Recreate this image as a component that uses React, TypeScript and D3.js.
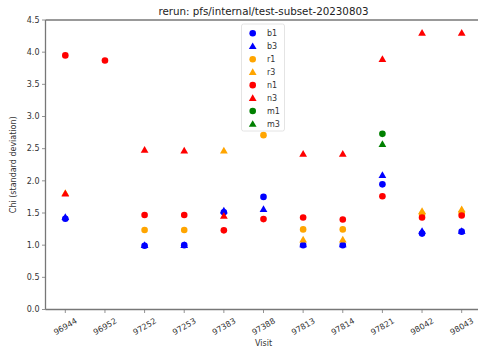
import React from "react";
import * as d3 from "d3";

const visits = ["96944", "96952", "97252", "97253", "97383", "97388", "97813", "97814", "97821", "98042", "98043"];
const yTicks = [0, 0.5, 1, 1.5, 2, 2.5, 3, 3.5, 4, 4.5];

const b1 = [1.41, null, 0.99, 1.0, 1.51, 1.75, 1.0, 1.0, 1.945, 1.18, 1.21];
const b3 = [1.435, null, 1.0, 1.0, 1.535, 1.56, 1.01, 1.01, 2.09, 1.22, 1.22];
const r1 = [null, null, 1.235, 1.235, null, 2.71, 1.245, 1.245, null, 1.48, 1.5];
const r3 = [1.81, null, null, null, 2.47, null, 1.085, 1.085, null, 1.53, 1.555];
const n1 = [3.95, 3.87, 1.47, 1.47, 1.23, 1.405, 1.43, 1.4, 1.76, 1.43, 1.46];
const n3 = [1.8, null, 2.48, 2.47, 1.455, null, 2.42, 2.42, 3.89, 4.3, 4.3];
const m1 = [null, null, null, null, null, null, null, null, 2.73, null, null];
const m3 = [null, null, null, null, null, null, null, null, 2.57, null, null];

const series = [
  { name: "b1", values: b1, color: "#0000ff", shape: "circle" },
  { name: "b3", values: b3, color: "#0000ff", shape: "triangle" },
  { name: "r1", values: r1, color: "#ffa500", shape: "circle" },
  { name: "r3", values: r3, color: "#ffa500", shape: "triangle" },
  { name: "n1", values: n1, color: "#ff0000", shape: "circle" },
  { name: "n3", values: n3, color: "#ff0000", shape: "triangle" },
  { name: "m1", values: m1, color: "#008000", shape: "circle" },
  { name: "m3", values: m3, color: "#008000", shape: "triangle" },
];

const W = 478, H = 349;
const L = 45.5, R = 481.5, T = 20, B = 309.5;
const FONT = "DejaVu Sans, sans-serif";

function Marker({ shape, x, y, color }: { shape: string; x: number; y: number; color: string }) {
  if (shape === "circle") return <circle cx={x} cy={y} r={3.3} fill={color} />;
  const s = d3.symbol(d3.symbolTriangle, 26)();
  return <path d={s as string} transform={`translate(${x},${y + 0.6})`} fill={color} />;
}

export default function App() {
  const x = d3.scaleLinear().domain([-0.5, visits.length - 0.5]).range([L, R]);
  const y = d3.scaleLinear().domain([0, 4.5]).range([B, T]);
  const axisColor = "#777";
  const textColor = "#333";
  return (
    <svg width={W} height={H} style={{ position: "absolute", left: 0, top: 0 }} fontFamily={FONT}>
      <rect x={0} y={0} width={W} height={H} fill="#fff" />
      {series.map((s) =>
        s.values.map((v, i) =>
          v == null ? null : <Marker key={s.name + i} shape={s.shape} x={x(i)} y={y(v)} color={s.color} />
        )
      )}
      <line x1={L} x2={R} y1={T} y2={T} stroke={axisColor} strokeWidth={1.3} />
      <line x1={L} x2={R} y1={B} y2={B} stroke={axisColor} strokeWidth={1.3} />
      <line x1={L} x2={L} y1={T} y2={B} stroke={axisColor} strokeWidth={1.3} />
      {yTicks.map((t) => (
        <g key={t}>
          <line x1={L - 3.5} x2={L} y1={y(t)} y2={y(t)} stroke={axisColor} strokeWidth={0.8} />
          <text x={L - 6} y={y(t)} dy="0.35em" textAnchor="end" fontSize={8} fill={textColor}>
            {t.toFixed(1)}
          </text>
        </g>
      ))}
      {visits.map((v, i) => (
        <g key={v}>
          <line x1={x(i)} x2={x(i)} y1={B} y2={B + 3.5} stroke={axisColor} strokeWidth={0.8} />
          <text
            transform={`translate(${x(i)},${B + 17}) rotate(-30)`}
            textAnchor="middle"
            dy="0.35em"
            fontSize={8}
            fill={textColor}
          >
            {v}
          </text>
        </g>
      ))}
      <text x={(L + R) / 2} y={346} textAnchor="middle" fontSize={8} fill={textColor}>Visit</text>
      <text
        transform={`translate(16,${(T + B) / 2}) rotate(-90)`}
        textAnchor="middle"
        fontSize={8}
        fill={textColor}
      >
        Chi (standard deviation)
      </text>
      <text x={(L + R) / 2} y={14.5} textAnchor="middle" fontSize={10.3} fill="#222">
        rerun: pfs/internal/test-subset-20230803
      </text>
      <rect x={241.5} y={24} width={43} height={107} rx={2} fill="#fff" fillOpacity={0.85} stroke="#ddd" strokeWidth={0.8} />
      {series.map((s, k) => {
        const ly = 33.3 + k * 12.96;
        return (
          <g key={s.name}>
            <Marker shape={s.shape} x={252.7} y={ly} color={s.color} />
            <text x={267} y={ly} dy="0.35em" fontSize={8} fill={textColor}>{s.name}</text>
          </g>
        );
      })}
    </svg>
  );
}
